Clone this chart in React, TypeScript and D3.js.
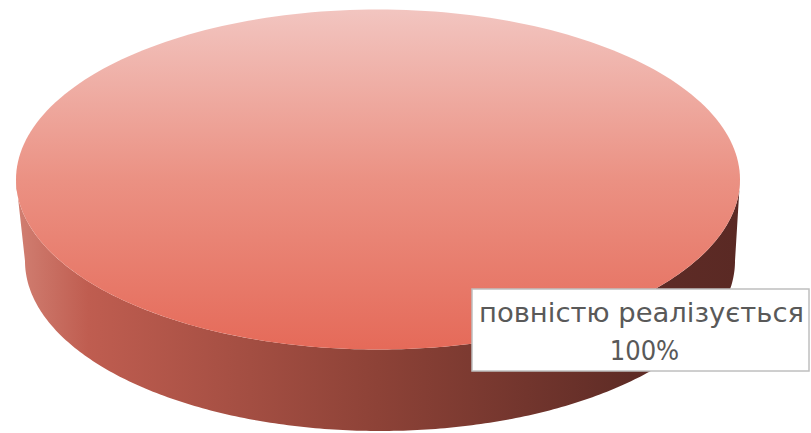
import React, { useEffect } from "react";
import * as d3 from "d3";

const categories = ["повністю реалізується"];
const values = [100];
const percentLabels = ["100%"];

const W = 811;
const H = 433;

export default function App() {
  useEffect(() => {
    document.body.style.margin = "0";
  }, []);

  const pie = d3.pie<number>().sort(null)(values);
  const total = d3.sum(values);

  // geometry of the 3D pie
  const top = { cx: 378, cy: 179.5, rx: 362, ry: 170 };
  const bot = { cx: 380, cy: 261, rx: 355, ry: 170 };

  const pt = (e: typeof top, a: number): [number, number] => [
    e.cx + e.rx * Math.sin(a),
    e.cy - e.ry * Math.cos(a),
  ];

  const line = d3.line<[number, number]>();
  const N = 240;

  const slices = pie.map((p, i) => {
    const s = p.startAngle;
    const e = p.endAngle;
    const angles = d3.range(N + 1).map((k) => s + ((e - s) * k) / N);
    const topPts = angles.map((a) => pt(top, a));
    const full = e - s >= 2 * Math.PI - 1e-6;
    const topPath = full
      ? line.curve(d3.curveLinearClosed)(topPts.slice(0, N))
      : line.curve(d3.curveLinearClosed)([[top.cx, top.cy], ...topPts]);
    // visible front side between PI/2 and 3PI/2
    const fs = Math.max(s, Math.PI / 2);
    const fe = Math.min(e, (3 * Math.PI) / 2);
    let sidePath: string | null = null;
    if (fe > fs) {
      const sa = d3.range(N + 1).map((k) => fs + ((fe - fs) * k) / N);
      const upper = sa.map((a) => pt(top, a));
      const lower = sa.slice().reverse().map((a) => pt(bot, a));
      sidePath = d3.line<[number, number]>().curve(d3.curveLinearClosed)([
        ...upper,
        ...lower,
      ]);
    }
    return { topPath, sidePath, i, pct: (values[i] / total) * 100 };
  });

  const box = { x: 472, y: 289, w: 337, h: 82 };
  const tx = box.x + box.w / 2 + 1;

  return (
    <svg width={W} height={H} style={{ display: "block" }}>
      <defs>
        <linearGradient id="topGrad" x1="0" y1={top.cy - top.ry} x2="0" y2={top.cy + top.ry} gradientUnits="userSpaceOnUse">
          <stop offset="0" stopColor="#f2c5c0" />
          <stop offset="0.5" stopColor="#eb9183" />
          <stop offset="1" stopColor="#e56a59" />
        </linearGradient>
        <linearGradient id="sideGrad" x1={top.cx - top.rx} y1="0" x2={top.cx + top.rx} y2="0" gradientUnits="userSpaceOnUse">
          <stop offset="0" stopColor="#d17f72" />
          <stop offset="0.1" stopColor="#bf5d50" />
          <stop offset="0.5" stopColor="#8d4237" />
          <stop offset="0.85" stopColor="#5f2c26" />
          <stop offset="1" stopColor="#5a2924" />
        </linearGradient>
      </defs>
      {slices.map((s) => (
        <g key={s.i}>
          {s.sidePath && <path d={s.sidePath} fill="url(#sideGrad)" />}
          <path d={s.topPath || ""} fill="url(#topGrad)" />
        </g>
      ))}
      <rect x={box.x} y={box.y} width={box.w} height={box.h} fill="#ffffff" stroke="#bfbfbf" strokeWidth={1.5} />
      <text fontFamily="DejaVu Sans Condensed" fontSize={27} fill="#595959" textAnchor="middle">
        <tspan x={tx} y={322} textLength={325} lengthAdjust="spacingAndGlyphs">
          {categories[0]}
        </tspan>
        <tspan x={tx + 3} y={360}>{percentLabels[0]}</tspan>
      </text>
    </svg>
  );
}
